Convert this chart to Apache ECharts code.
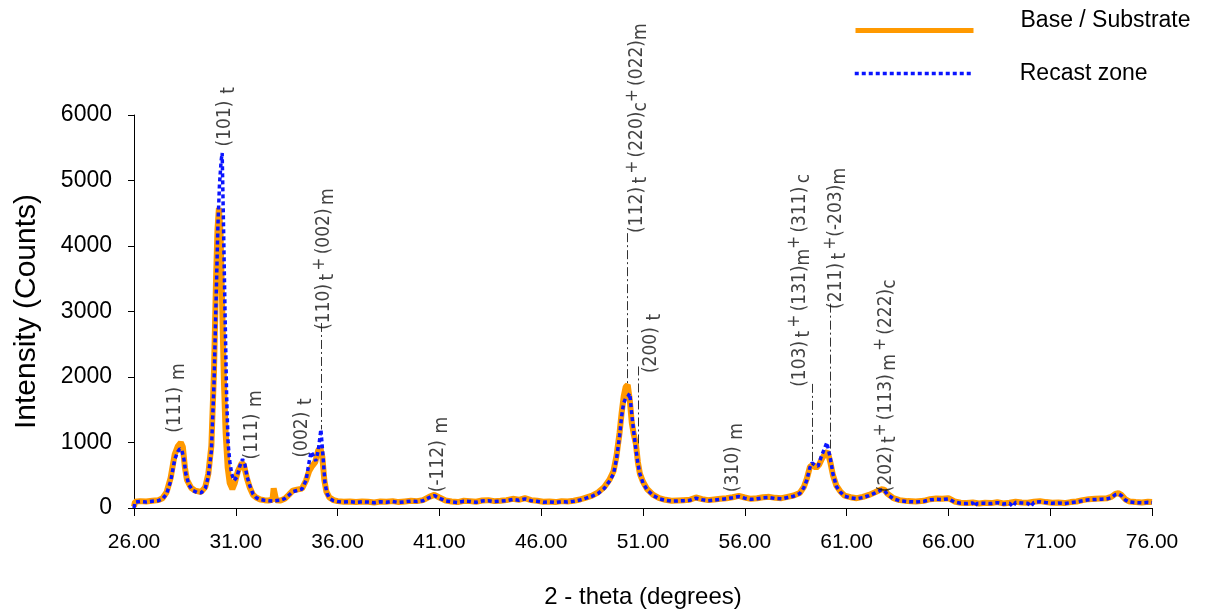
<!DOCTYPE html>
<html>
<head>
<meta charset="utf-8">
<script src="https://cdn.jsdelivr.net/npm/echarts@6/dist/echarts.min.js"></script>
<style>html,body{margin:0;padding:0;background:#fff}#c{width:1206px;height:614px}</style>
</head>
<body>
<div id="c"></div>
<script>
// ---- data ----
const seriesNames = ['Base / Substrate', 'Recast zone'];

const baseSubstrate = [
[26.00,20],[26.05,95],[26.3,105],[26.6,100],[26.9,110],[27.2,120],[27.4,150],[27.6,240],[27.8,460],[28.0,820],[28.15,940],[28.3,1000],[28.4,930],[28.5,620],[28.6,430],[28.8,310],[29.0,265],[29.3,245],[29.5,320],[29.65,520],[29.8,950],[29.93,2100],[30.03,3500],[30.1,4250],[30.17,4580],[30.25,4200],[30.33,3100],[30.42,1900],[30.5,1150],[30.6,620],[30.7,380],[30.83,290],[30.95,380],[31.1,560],[31.3,690],[31.4,650],[31.55,450],[31.7,300],[31.85,200],[32.0,160],[32.2,130],[32.4,120],[32.6,115],[32.8,125],[32.86,300],[32.92,280],[32.98,120],[33.2,115],[33.4,140],[33.6,200],[33.8,265],[34.0,280],[34.25,295],[34.45,420],[34.6,560],[34.75,640],[34.9,700],[35.05,880],[35.15,920],[35.25,780],[35.35,420],[35.45,250],[35.6,160],[35.8,120],[36.0,105],[36.3,95],[36.6,100],[36.9,90],[37.2,100],[37.5,95],[37.8,85],[38.1,100],[38.4,95],[38.7,105],[39.0,90],[39.3,100],[39.6,110],[39.9,105],[40.2,120],[40.5,170],[40.75,200],[41.0,160],[41.3,115],[41.6,100],[41.9,90],[42.2,110],[42.5,105],[42.8,95],[43.1,115],[43.4,120],[43.7,105],[44.0,110],[44.3,120],[44.6,140],[44.9,125],[45.2,150],[45.5,120],[45.8,110],[46.1,95],[46.4,100],[46.7,90],[47.0,105],[47.3,100],[47.6,110],[47.9,130],[48.2,160],[48.5,190],[48.8,240],[49.1,320],[49.35,430],[49.55,560],[49.7,800],[49.85,1150],[49.95,1450],[50.05,1700],[50.15,1850],[50.25,1880],[50.35,1650],[50.45,1300],[50.55,1120],[50.65,980],[50.75,700],[50.85,520],[51.0,400],[51.2,290],[51.5,200],[51.8,150],[52.1,125],[52.4,110],[52.7,115],[53.0,120],[53.3,125],[53.6,160],[53.9,135],[54.2,120],[54.5,130],[54.8,140],[55.1,150],[55.4,165],[55.7,185],[56.0,160],[56.3,140],[56.6,150],[56.9,165],[57.2,170],[57.5,155],[57.8,150],[58.1,170],[58.4,190],[58.7,230],[58.9,320],[59.05,450],[59.2,630],[59.35,660],[59.5,610],[59.65,660],[59.8,760],[59.95,830],[60.07,860],[60.2,700],[60.33,500],[60.5,340],[60.7,250],[60.9,190],[61.2,165],[61.5,150],[61.8,170],[62.1,200],[62.4,240],[62.7,285],[62.85,280],[63.0,220],[63.3,150],[63.6,120],[64.0,105],[64.4,100],[64.8,110],[65.1,135],[65.4,145],[65.7,140],[66.0,150],[66.3,100],[66.6,80],[66.9,75],[67.2,85],[67.5,70],[67.8,80],[68.1,75],[68.4,90],[68.7,70],[69.0,80],[69.3,95],[69.6,85],[69.9,80],[70.2,95],[70.5,105],[70.8,90],[71.1,80],[71.4,85],[71.7,75],[72.0,90],[72.3,100],[72.6,120],[72.9,135],[73.2,140],[73.5,145],[73.8,150],[74.0,170],[74.2,215],[74.35,225],[74.5,200],[74.7,130],[74.9,100],[75.2,90],[75.5,85],[75.8,95],[76.0,90]
];

const recastZone = [
[26.00,0],[26.05,90],[26.3,100],[26.6,92],[26.9,104],[27.2,112],[27.4,138],[27.6,215],[27.8,410],[28.0,740],[28.15,860],[28.25,905],[28.35,880],[28.45,750],[28.55,520],[28.7,350],[28.9,265],[29.1,238],[29.3,232],[29.5,300],[29.65,480],[29.8,870],[29.93,1900],[30.03,3150],[30.12,4300],[30.2,4950],[30.28,5300],[30.33,5420],[30.4,4250],[30.47,3000],[30.55,1700],[30.62,1000],[30.7,720],[30.8,520],[30.92,420],[31.05,470],[31.2,640],[31.33,745],[31.45,660],[31.55,480],[31.7,330],[31.85,210],[32.0,158],[32.2,128],[32.4,118],[32.6,112],[32.8,108],[33.0,114],[33.2,118],[33.4,142],[33.6,195],[33.8,250],[34.0,268],[34.25,290],[34.45,420],[34.6,700],[34.7,860],[34.8,800],[34.93,720],[35.05,880],[35.18,1200],[35.28,800],[35.38,380],[35.48,220],[35.6,148],[35.8,112],[36.0,98],[36.3,90],[36.6,96],[36.9,86],[37.2,95],[37.5,90],[37.8,80],[38.1,95],[38.4,88],[38.7,100],[39.0,85],[39.3,95],[39.6,104],[39.9,100],[40.2,112],[40.5,160],[40.75,190],[41.0,150],[41.3,110],[41.6,95],[41.9,84],[42.2,104],[42.5,100],[42.8,88],[43.1,108],[43.4,112],[43.7,98],[44.0,104],[44.3,112],[44.6,130],[44.9,118],[45.2,140],[45.5,112],[45.8,102],[46.1,88],[46.4,94],[46.7,84],[47.0,98],[47.3,92],[47.6,104],[47.9,122],[48.2,150],[48.5,180],[48.8,225],[49.1,300],[49.35,410],[49.55,520],[49.7,750],[49.85,1100],[49.95,1400],[50.05,1600],[50.15,1680],[50.25,1700],[50.35,1750],[50.45,1420],[50.55,1150],[50.65,900],[50.75,680],[50.85,520],[51.0,380],[51.2,280],[51.5,190],[51.8,140],[52.1,118],[52.4,104],[52.7,108],[53.0,112],[53.3,118],[53.6,150],[53.9,128],[54.2,112],[54.5,122],[54.8,132],[55.1,142],[55.4,158],[55.7,175],[56.0,150],[56.3,132],[56.6,140],[56.9,155],[57.2,160],[57.5,145],[57.8,140],[58.1,160],[58.4,180],[58.7,220],[58.9,310],[59.05,430],[59.2,620],[59.3,690],[59.45,650],[59.6,640],[59.75,780],[59.9,900],[60.03,1000],[60.1,1010],[60.2,760],[60.33,520],[60.5,330],[60.7,240],[60.9,180],[61.2,155],[61.5,142],[61.8,160],[62.1,190],[62.4,230],[62.7,275],[62.85,270],[63.0,210],[63.3,140],[63.6,112],[64.0,98],[64.4,92],[64.8,102],[65.1,125],[65.4,135],[65.7,130],[66.0,140],[66.3,92],[66.6,72],[66.9,68],[67.2,78],[67.3,25],[67.4,70],[67.8,72],[68.1,68],[68.4,82],[68.7,62],[69.0,72],[69.17,20],[69.3,86],[69.6,78],[69.9,72],[70.05,25],[70.2,86],[70.5,96],[70.8,82],[71.1,72],[71.4,78],[71.7,68],[72.0,82],[72.3,92],[72.6,110],[72.9,125],[73.2,130],[73.5,135],[73.8,140],[74.0,160],[74.2,205],[74.35,215],[74.5,190],[74.7,120],[74.9,92],[75.2,82],[75.5,78],[75.8,86],[76.0,82]
];

// peak labels: [2-theta, intensity at text start, rich text]
const peakLabels = [
  [28.02, 1150, '{n|(111)}  {s|m}'],
  [30.47, 5520, '{n|(101)}  {s|t}'],
  [31.80, 740,  '{n|(111)}  {s|m}'],
  [34.26, 770,  '{n|(002)}  {s|t}'],
  [35.34, 2720, '{n|(110)} {s|t} {p|+} {n|(002)} {s|m}'],
  [40.95, 240,  '{n|(-112)}  {s|m}'],
  [50.73, 4200, '{n|(112)} {s|t} {p|+} {n|(220)}{s|c}{p|+} {n|(022)}{s|m}'],
  [51.42, 2060, '{n|(200)}  {s|t}'],
  [55.40, 240,  '{n|(310)}  {s|m}'],
  [58.69, 1850, '{n|(103)} {s|t} {p|+} {n|(131)}{s|m}{p|+} {n|(311)} {s|c}'],
  [60.46, 3040, '{n|(211)} {s|t} {p|+}{n|(-203)}{s|m}'],
  [62.92, 240,  '{n|(202)} {s|t}{p|+} {n|(113)} {s|m} {p|+} {n|(222)}{s|c}']
];

// dash-dot guide lines: [2-theta, top intensity, bottom intensity]
const guideLines = [
  [35.19, 2825, 1200],
  [50.24, 4196, 1895],
  [50.78, 2161, 981],
  [59.33, 1895, 656],
  [60.22, 3120, 863]
];

const xMin = 26, xMax = 76, xStep = 5;
const yMin = 0, yMax = 6000, yStep = 1000;

// ---- chart ----
const FONT = 'Liberation Sans, Arial, sans-serif';
const NARROW = '"Liberation Sans Narrow", "Arial Narrow", "DejaVu Sans Condensed", sans-serif';
const chart = echarts.init(document.getElementById('c'), null, {renderer: 'canvas'});

const option = {
  backgroundColor: '#ffffff',
  animation: false,
  grid: {left: 134, right: 54, top: 115, bottom: 92.5, containLabel: false},
  legend: [
    {
      data: [{name: seriesNames[0]}],
      formatter: '{a|{name}}',
      left: 853, top: 9, padding: 0, itemWidth: 118, itemHeight: 14,
      textStyle: {fontSize: 23, color: '#000', fontFamily: FONT, padding: [0, 0, 0, 42],
        rich: {a: {fontSize: 23, color: '#000', fontFamily: FONT, padding: [0, 0, 20, 0]}}},
      itemStyle: {opacity: 0},
      lineStyle: {width: 5}
    },
    {
      data: [{name: seriesNames[1]}],
      left: 853, top: 62, padding: 0, itemWidth: 118, itemHeight: 14,
      textStyle: {fontSize: 23, color: '#000', fontFamily: FONT, padding: [0, 0, 0, 42]},
      itemStyle: {opacity: 0},
      lineStyle: {width: 3.5}
    }
  ],
  xAxis: {
    type: 'value', min: xMin, max: xMax, interval: xStep,
    name: '2 - theta (degrees)', nameLocation: 'middle', nameGap: 77,
    nameTextStyle: {fontSize: 24, color: '#000', fontFamily: FONT},
    axisLine: {show: true, onZero: false, lineStyle: {color: '#000', width: 1}},
    axisTick: {show: true, length: 8, inside: false, lineStyle: {color: '#000'}},
    axisLabel: {fontSize: 21, color: '#000', fontFamily: FONT, margin: 24,
      formatter: v => v.toFixed(2)},
    splitLine: {show: false}
  },
  yAxis: {
    type: 'value', min: yMin, max: yMax, interval: yStep,
    name: 'Intensity (Counts)', nameLocation: 'middle', nameGap: 92,
    nameTextStyle: {fontSize: 30, color: '#000', fontFamily: FONT},
    axisLine: {show: true, lineStyle: {color: '#000', width: 1}},
    axisTick: {show: true, length: 6, inside: false, lineStyle: {color: '#000'}},
    axisLabel: {fontSize: 23, color: '#000', fontFamily: FONT, margin: 22,
      formatter: v => String(v)},
    splitLine: {show: false}
  },
  series: [
    {
      name: seriesNames[0], type: 'line', data: baseSubstrate,
      showSymbol: false, symbol: 'none',
      lineStyle: {color: '#FF9900', width: 6},
      itemStyle: {color: '#FF9900'}, z: 2
    },
    {
      name: seriesNames[1], type: 'line', data: recastZone,
      showSymbol: false, symbol: 'none',
      lineStyle: {color: '#0a14ff', width: 3.5, type: [4, 3]},
      itemStyle: {color: '#0a14ff'}, z: 3
    },
    {
      name: 'labels', type: 'scatter',
      data: peakLabels.map(p => [p[0], p[1]]),
      symbolSize: 0.1, itemStyle: {color: 'rgba(0,0,0,0)'},
      z: 5, silent: true,
      label: {
        show: true, position: 'inside', rotate: 90, align: 'left', verticalAlign: 'middle',
        formatter: p => peakLabels[p.dataIndex][2],
        color: '#111',
        rich: {
          n: {fontSize: 19, fontFamily: NARROW, color: '#111', lineHeight: 27, verticalAlign: 'middle'},
          s: {fontSize: 19, fontFamily: NARROW, color: '#111', lineHeight: 19, verticalAlign: 'bottom'},
          p: {fontSize: 17, fontFamily: NARROW, color: '#111', lineHeight: 19, verticalAlign: 'top'}
        }
      },
      markLine: {
        silent: true, symbol: ['none', 'none'], label: {show: false},
        lineStyle: {color: '#333', width: 1, type: [9, 3, 2, 3]},
        data: guideLines.map(g => [{coord: [g[0], g[1]]}, {coord: [g[0], g[2]]}])
      }
    }
  ]
};
chart.setOption(option);
</script>
</body>
</html>
